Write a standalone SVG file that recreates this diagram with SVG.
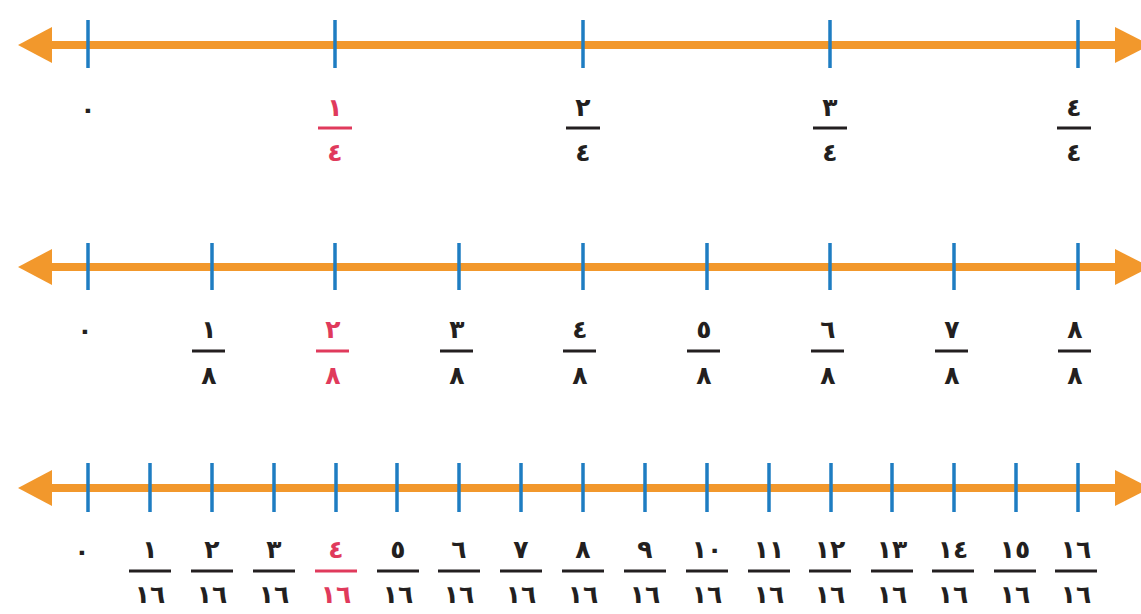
<svg xmlns="http://www.w3.org/2000/svg" width="1141" height="614" viewBox="0 0 1141 614">
<style>
.axis{stroke:#F2982C;stroke-width:8;fill:none}
.head{fill:#F2982C}
.tick{stroke:#1E7DC2;stroke-width:3.5}
.t{font-family:"DejaVu Sans",sans-serif;font-weight:bold;font-size:25px;fill:#231F20;text-anchor:middle}
.r{fill:#E03A5C}
.bar{stroke:#231F20;stroke-width:3}
.rb{stroke:#E03A5C;stroke-width:3}
</style>
<defs>
<polygon id="la" class="head" points="18,0 52,-18 52,18"/>
<polygon id="ra" class="head" points="1150,0 1115,-18 1115,18"/>
</defs>
<g id="connectors">
<g id="axis1"><line class="axis" x1="40" y1="45" x2="1125" y2="45"/><use href="#la" y="45"/><use href="#ra" y="45"/></g>
<g id="axis2"><line class="axis" x1="40" y1="267" x2="1125" y2="267"/><use href="#la" y="267"/><use href="#ra" y="267"/></g>
<g id="axis3"><line class="axis" x1="40" y1="488" x2="1125" y2="488"/><use href="#la" y="488"/><use href="#ra" y="488"/></g>
</g>
<g id="line1">
<g class="tick"><line x1="88" y1="20" x2="88" y2="68"/><line x1="335" y1="20" x2="335" y2="68"/><line x1="583" y1="20" x2="583" y2="68"/><line x1="830" y1="20" x2="830" y2="68"/><line x1="1078" y1="20" x2="1078" y2="68"/></g>
<text class="t" x="88" y="118">٠</text>
<g id="f1-1"><text class="t r" x="335" y="116">١</text><line class="rb" x1="318" y1="128" x2="352" y2="128"/><text class="t r" x="335" y="161">٤</text></g>
<g id="f1-2"><text class="t" x="583" y="116">٢</text><line class="bar" x1="566" y1="128" x2="600" y2="128"/><text class="t" x="583" y="161">٤</text></g>
<g id="f1-3"><text class="t" x="830" y="116">٣</text><line class="bar" x1="813" y1="128" x2="847" y2="128"/><text class="t" x="830" y="161">٤</text></g>
<g id="f1-4"><text class="t" x="1074" y="116">٤</text><line class="bar" x1="1057" y1="128" x2="1091" y2="128"/><text class="t" x="1074" y="161">٤</text></g>
</g>
<g id="line2">
<g class="tick">
<line x1="88" y1="243" x2="88" y2="290"/><line x1="212" y1="243" x2="212" y2="290"/><line x1="335" y1="243" x2="335" y2="290"/><line x1="459" y1="243" x2="459" y2="290"/><line x1="583" y1="243" x2="583" y2="290"/><line x1="707" y1="243" x2="707" y2="290"/><line x1="830" y1="243" x2="830" y2="290"/><line x1="954" y1="243" x2="954" y2="290"/><line x1="1078" y1="243" x2="1078" y2="290"/>
</g>
<text class="t" x="85" y="339">٠</text>
<g id="f2-1"><text class="t" x="209" y="338">١</text><line class="bar" x1="192" y1="351" x2="225" y2="351"/><text class="t" x="209" y="384">٨</text></g>
<g id="f2-2"><text class="t r" x="333" y="338">٢</text><line class="rb" x1="316" y1="351" x2="349" y2="351"/><text class="t r" x="333" y="384">٨</text></g>
<g id="f2-3"><text class="t" x="457" y="338">٣</text><line class="bar" x1="440" y1="351" x2="473" y2="351"/><text class="t" x="457" y="384">٨</text></g>
<g id="f2-4"><text class="t" x="580" y="338">٤</text><line class="bar" x1="563" y1="351" x2="596" y2="351"/><text class="t" x="580" y="384">٨</text></g>
<g id="f2-5"><text class="t" x="704" y="338">٥</text><line class="bar" x1="687" y1="351" x2="720" y2="351"/><text class="t" x="704" y="384">٨</text></g>
<g id="f2-6"><text class="t" x="828" y="338">٦</text><line class="bar" x1="811" y1="351" x2="844" y2="351"/><text class="t" x="828" y="384">٨</text></g>
<g id="f2-7"><text class="t" x="952" y="338">٧</text><line class="bar" x1="935" y1="351" x2="968" y2="351"/><text class="t" x="952" y="384">٨</text></g>
<g id="f2-8"><text class="t" x="1075" y="338">٨</text><line class="bar" x1="1058" y1="351" x2="1091" y2="351"/><text class="t" x="1075" y="384">٨</text></g>
</g>
<g id="line3">
<g class="tick">
<line x1="88" y1="463" x2="88" y2="512"/><line x1="150" y1="463" x2="150" y2="512"/><line x1="212" y1="463" x2="212" y2="512"/><line x1="274" y1="463" x2="274" y2="512"/><line x1="336" y1="463" x2="336" y2="512"/><line x1="397" y1="463" x2="397" y2="512"/><line x1="459" y1="463" x2="459" y2="512"/><line x1="521" y1="463" x2="521" y2="512"/><line x1="583" y1="463" x2="583" y2="512"/><line x1="645" y1="463" x2="645" y2="512"/><line x1="707" y1="463" x2="707" y2="512"/><line x1="769" y1="463" x2="769" y2="512"/><line x1="831" y1="463" x2="831" y2="512"/><line x1="892" y1="463" x2="892" y2="512"/><line x1="954" y1="463" x2="954" y2="512"/><line x1="1016" y1="463" x2="1016" y2="512"/><line x1="1078" y1="463" x2="1078" y2="512"/>
</g>
<text class="t" x="82" y="560">٠</text>
<g id="f3-1"><text class="t" x="150" y="558">١</text><line class="bar" x1="129" y1="571" x2="171" y2="571"/><text class="t" x="150" y="603">١٦</text></g>
<g id="f3-2"><text class="t" x="212" y="558">٢</text><line class="bar" x1="191" y1="571" x2="233" y2="571"/><text class="t" x="212" y="603">١٦</text></g>
<g id="f3-3"><text class="t" x="274" y="558">٣</text><line class="bar" x1="253" y1="571" x2="295" y2="571"/><text class="t" x="274" y="603">١٦</text></g>
<g id="f3-4"><text class="t r" x="336" y="558">٤</text><line class="rb" x1="315" y1="571" x2="357" y2="571"/><text class="t r" x="336" y="603">١٦</text></g>
<g id="f3-5"><text class="t" x="398" y="558">٥</text><line class="bar" x1="377" y1="571" x2="419" y2="571"/><text class="t" x="398" y="603">١٦</text></g>
<g id="f3-6"><text class="t" x="459" y="558">٦</text><line class="bar" x1="438" y1="571" x2="480" y2="571"/><text class="t" x="459" y="603">١٦</text></g>
<g id="f3-7"><text class="t" x="521" y="558">٧</text><line class="bar" x1="500" y1="571" x2="542" y2="571"/><text class="t" x="521" y="603">١٦</text></g>
<g id="f3-8"><text class="t" x="583" y="558">٨</text><line class="bar" x1="562" y1="571" x2="604" y2="571"/><text class="t" x="583" y="603">١٦</text></g>
<g id="f3-9"><text class="t" x="645" y="558">٩</text><line class="bar" x1="624" y1="571" x2="666" y2="571"/><text class="t" x="645" y="603">١٦</text></g>
<g id="f3-10"><text class="t" x="707" y="558">١٠</text><line class="bar" x1="686" y1="571" x2="728" y2="571"/><text class="t" x="707" y="603">١٦</text></g>
<g id="f3-11"><text class="t" x="769" y="558">١١</text><line class="bar" x1="748" y1="571" x2="790" y2="571"/><text class="t" x="769" y="603">١٦</text></g>
<g id="f3-12"><text class="t" x="830" y="558">١٢</text><line class="bar" x1="809" y1="571" x2="851" y2="571"/><text class="t" x="830" y="603">١٦</text></g>
<g id="f3-13"><text class="t" x="892" y="558">١٣</text><line class="bar" x1="871" y1="571" x2="913" y2="571"/><text class="t" x="892" y="603">١٦</text></g>
<g id="f3-14"><text class="t" x="953" y="558">١٤</text><line class="bar" x1="932" y1="571" x2="974" y2="571"/><text class="t" x="953" y="603">١٦</text></g>
<g id="f3-15"><text class="t" x="1015" y="558">١٥</text><line class="bar" x1="994" y1="571" x2="1036" y2="571"/><text class="t" x="1015" y="603">١٦</text></g>
<g id="f3-16"><text class="t" x="1076" y="558">١٦</text><line class="bar" x1="1055" y1="571" x2="1097" y2="571"/><text class="t" x="1076" y="603">١٦</text></g>
</g>
</svg>
